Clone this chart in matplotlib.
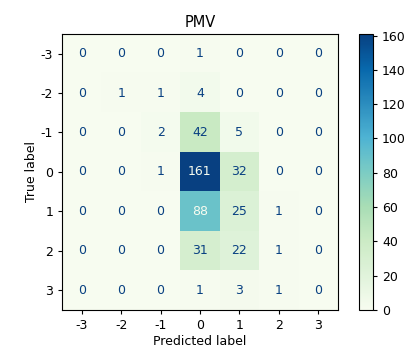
import matplotlib
matplotlib.use("Agg")
import matplotlib.pyplot as plt
import numpy as np

labels = ["-3", "-2", "-1", "0", "1", "2", "3"]
row_m3 = [0, 0, 0, 1, 0, 0, 0]
row_m2 = [0, 1, 1, 4, 0, 0, 0]
row_m1 = [0, 0, 2, 42, 5, 0, 0]
row_0 = [0, 0, 1, 161, 32, 0, 0]
row_1 = [0, 0, 0, 88, 25, 1, 0]
row_2 = [0, 0, 0, 31, 22, 1, 0]
row_3 = [0, 0, 0, 1, 3, 1, 0]

cm = np.array([row_m3, row_m2, row_m1, row_0, row_1, row_2, row_3])
n = len(labels)

plt.rcParams["font.size"] = 9
plt.rcParams["xtick.major.size"] = 3
plt.rcParams["ytick.major.size"] = 3

fig = plt.figure(figsize=(4.14, 3.49), dpi=100)
ax = fig.add_axes([0.150, 0.112, 0.666, 0.791])
cax = fig.add_axes([0.867, 0.112, 0.034, 0.791])

cmap = plt.get_cmap("GnBu")
im = ax.imshow(cm, cmap=cmap, interpolation="nearest", aspect="auto")
fig.colorbar(im, cax=cax)

# text colour like sklearn ConfusionMatrixDisplay
cmap_min, cmap_max = cmap(0.0), cmap(1.0)
thresh = (cm.max() + cm.min()) / 2.0
for i in range(n):
    for j in range(n):
        c = cmap_min if cm[i, j] >= thresh else cmap_max
        ax.text(j, i, str(cm[i, j]), ha="center", va="center", color=c, fontsize=9)

ax.set_xticks(range(n))
ax.set_xticklabels(labels)
ax.set_yticks(range(n))
ax.set_yticklabels(labels)
ax.set_xlabel("Predicted label", labelpad=2)
ax.set_ylabel("True label", labelpad=2)
ax.set_title("PMV", fontsize=10.5, pad=5)

fig.savefig("out.png", dpi=100)
